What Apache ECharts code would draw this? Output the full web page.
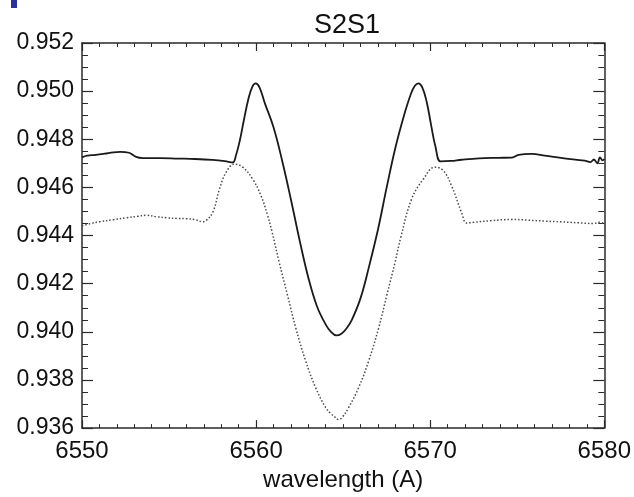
<!DOCTYPE html>
<html>
<head>
<meta charset="utf-8">
<script src="https://cdn.jsdelivr.net/npm/echarts@6/dist/echarts.min.js"></script>
<style>
html,body{margin:0;padding:0;background:#fff;}
#c{width:634px;height:497px;}
</style>
</head>
<body>
<div id="c"></div>
<script>
// ---- data ----
var titleText = 'S2S1';
var xName = 'wavelength (A)';
var xTicks = [6550, 6560, 6570, 6580];
var yTicks = [0.936, 0.938, 0.940, 0.942, 0.944, 0.946, 0.948, 0.950, 0.952];

var solidWl = [6550.0, 6550.3, 6550.8, 6551.3, 6551.8, 6552.2, 6552.7, 6553.1, 6553.5, 6554.5, 6555.5, 6556.5, 6557.5, 6558.2, 6558.66,
  6558.85, 6559.05, 6559.3, 6559.55, 6559.78, 6559.98, 6560.2, 6560.5, 6561.0, 6561.5, 6562.0, 6562.5, 6563.0, 6563.5, 6564.0, 6564.3, 6564.6,
  6564.9, 6565.2, 6565.5, 6566.0, 6566.5, 6567.0, 6567.5, 6568.0, 6568.5, 6568.9, 6569.12, 6569.32, 6569.55, 6569.8, 6570.05, 6570.3, 6570.6,
  6571.2, 6571.8, 6572.8, 6573.9, 6574.7, 6575.07, 6575.83, 6576.59, 6577.7, 6578.87, 6579.2, 6579.4, 6579.6, 6579.75, 6579.9, 6580.0];
var solidFlux = [0.94725, 0.94732, 0.94735, 0.94740, 0.94746, 0.94748, 0.94744, 0.94727, 0.94722, 0.94722, 0.94720, 0.94718, 0.94714, 0.94709, 0.94704,
  0.94735, 0.94790, 0.94880, 0.94965, 0.95018, 0.95032, 0.95015, 0.94950, 0.94850, 0.94710, 0.94550, 0.94380, 0.94225, 0.94105, 0.94030, 0.94000, 0.93985,
  0.93992, 0.94015, 0.94050, 0.94140, 0.94275, 0.94425, 0.94600, 0.94765, 0.94900, 0.94990, 0.95022, 0.95032, 0.95015, 0.94955, 0.94860, 0.94770, 0.94708,
  0.94710, 0.94715, 0.94721, 0.94723, 0.94724, 0.94735, 0.94739, 0.94732, 0.94721, 0.94711, 0.94705, 0.94716, 0.94700, 0.94725, 0.94712, 0.94718];

var dottedWl = [6550.0, 6550.5, 6551.0, 6551.8, 6552.57, 6553.2, 6553.7, 6554.3, 6554.85, 6555.5, 6556.0, 6556.5, 6556.95, 6557.14, 6557.52,
  6557.9, 6558.28, 6558.76, 6559.23, 6559.8, 6560.28, 6560.66, 6560.9, 6561.32, 6561.8, 6562.28, 6562.85, 6563.42, 6563.99, 6564.3,
  6564.56, 6564.75, 6564.95, 6565.32, 6565.89, 6566.46, 6567.04, 6567.51, 6567.99, 6568.3, 6568.94, 6569.61, 6570.27, 6570.75, 6571.22,
  6571.79, 6572.1, 6572.5, 6573.5, 6574.7, 6575.6, 6576.6, 6577.5, 6578.5, 6579.4, 6579.7, 6580.0];
var dottedFlux = [0.94440, 0.94450, 0.94457, 0.94466, 0.94474, 0.94480, 0.94484, 0.94478, 0.94474, 0.94471, 0.94470, 0.94466, 0.94457, 0.94463, 0.94498,
  0.94594, 0.94663, 0.94697, 0.94684, 0.94635, 0.94566, 0.94484, 0.94420, 0.94291, 0.94153, 0.94016, 0.93878, 0.93768, 0.93686, 0.93660,
  0.93644, 0.93635, 0.93645, 0.93686, 0.93768, 0.93878, 0.94016, 0.94153, 0.94291, 0.94390, 0.94553, 0.94635, 0.94684, 0.94670, 0.94608,
  0.94498, 0.94452, 0.94455, 0.94462, 0.94467, 0.94464, 0.94460, 0.94457, 0.94453, 0.94450, 0.94455, 0.94450];

function pairs(xs, ys) { return xs.map(function (x, i) { return [x, ys[i]]; }); }

var FONT = '"Liberation Sans", Arial, Helvetica, sans-serif';
var AX = '#2a2a2a';
var xMin = xTicks[0], xMax = xTicks[xTicks.length - 1], xInt = xTicks[1] - xTicks[0];
var yMin = yTicks[0], yMax = yTicks[yTicks.length - 1], yInt = 0.002;

function xAxisCfg(pos, showLabels) {
  return {
    type: 'value', position: pos, min: xMin, max: xMax, interval: xInt,
    axisLine: { show: true, onZero: false, lineStyle: { color: AX, width: 1.5 } },
    axisTick: { show: true, inside: true, length: 8, lineStyle: { color: AX, width: 1.2 } },
    minorTick: { show: true, splitNumber: 10, length: 4, lineStyle: { color: AX, width: 1 } },
    splitLine: { show: false },
    axisLabel: { show: showLabels, margin: 11, color: '#111', fontSize: 24, fontFamily: FONT,
      formatter: function (v) { return String(v); } },
    name: showLabels ? xName : '', nameLocation: 'middle', nameGap: 37,
    nameTextStyle: { color: '#111', fontSize: 24, fontFamily: FONT }
  };
}
function yAxisCfg(pos, showLabels) {
  return {
    type: 'value', position: pos, min: yMin, max: yMax, interval: yInt,
    axisLine: { show: true, onZero: false, lineStyle: { color: AX, width: 1.5 } },
    axisTick: { show: true, inside: true, length: 11, lineStyle: { color: AX, width: 1.2 } },
    minorTick: { show: true, splitNumber: 4, length: 6, lineStyle: { color: AX, width: 1 } },
    splitLine: { show: false },
    axisLabel: { show: showLabels, margin: 8, color: '#111', fontSize: 23, fontFamily: FONT,
      formatter: function (v) { return v.toFixed(3); } }
  };
}

var chart = echarts.init(document.getElementById('c'), null, { renderer: 'canvas' });
chart.setOption({
  animation: false,
  backgroundColor: '#fff',
  title: {
    text: titleText, left: 342, top: 7, textAlign: 'center',
    textStyle: { color: '#111', fontSize: 27, fontWeight: 'normal', fontFamily: FONT }
  },
  graphic: [{ type: 'rect', left: 11, top: 0, shape: { width: 6, height: 8 }, style: { fill: '#2b2f9e' } }],
  grid: { left: 82, right: 27, top: 43, bottom: 66, containLabel: false },
  xAxis: [xAxisCfg('bottom', true), xAxisCfg('top', false)],
  yAxis: [yAxisCfg('left', true), yAxisCfg('right', false)],
  series: [
    {
      type: 'line', xAxisIndex: 0, yAxisIndex: 0, data: pairs(solidWl, solidFlux),
      showSymbol: false, smooth: 0.4, lineStyle: { color: '#1a1a1a', width: 1.8 }
    },
    {
      type: 'line', xAxisIndex: 0, yAxisIndex: 0, data: pairs(dottedWl, dottedFlux),
      showSymbol: false, smooth: 0.4, lineStyle: { color: '#4a4a4a', width: 1.5, type: [1.5, 2] }
    }
  ]
});
</script>
</body>
</html>
